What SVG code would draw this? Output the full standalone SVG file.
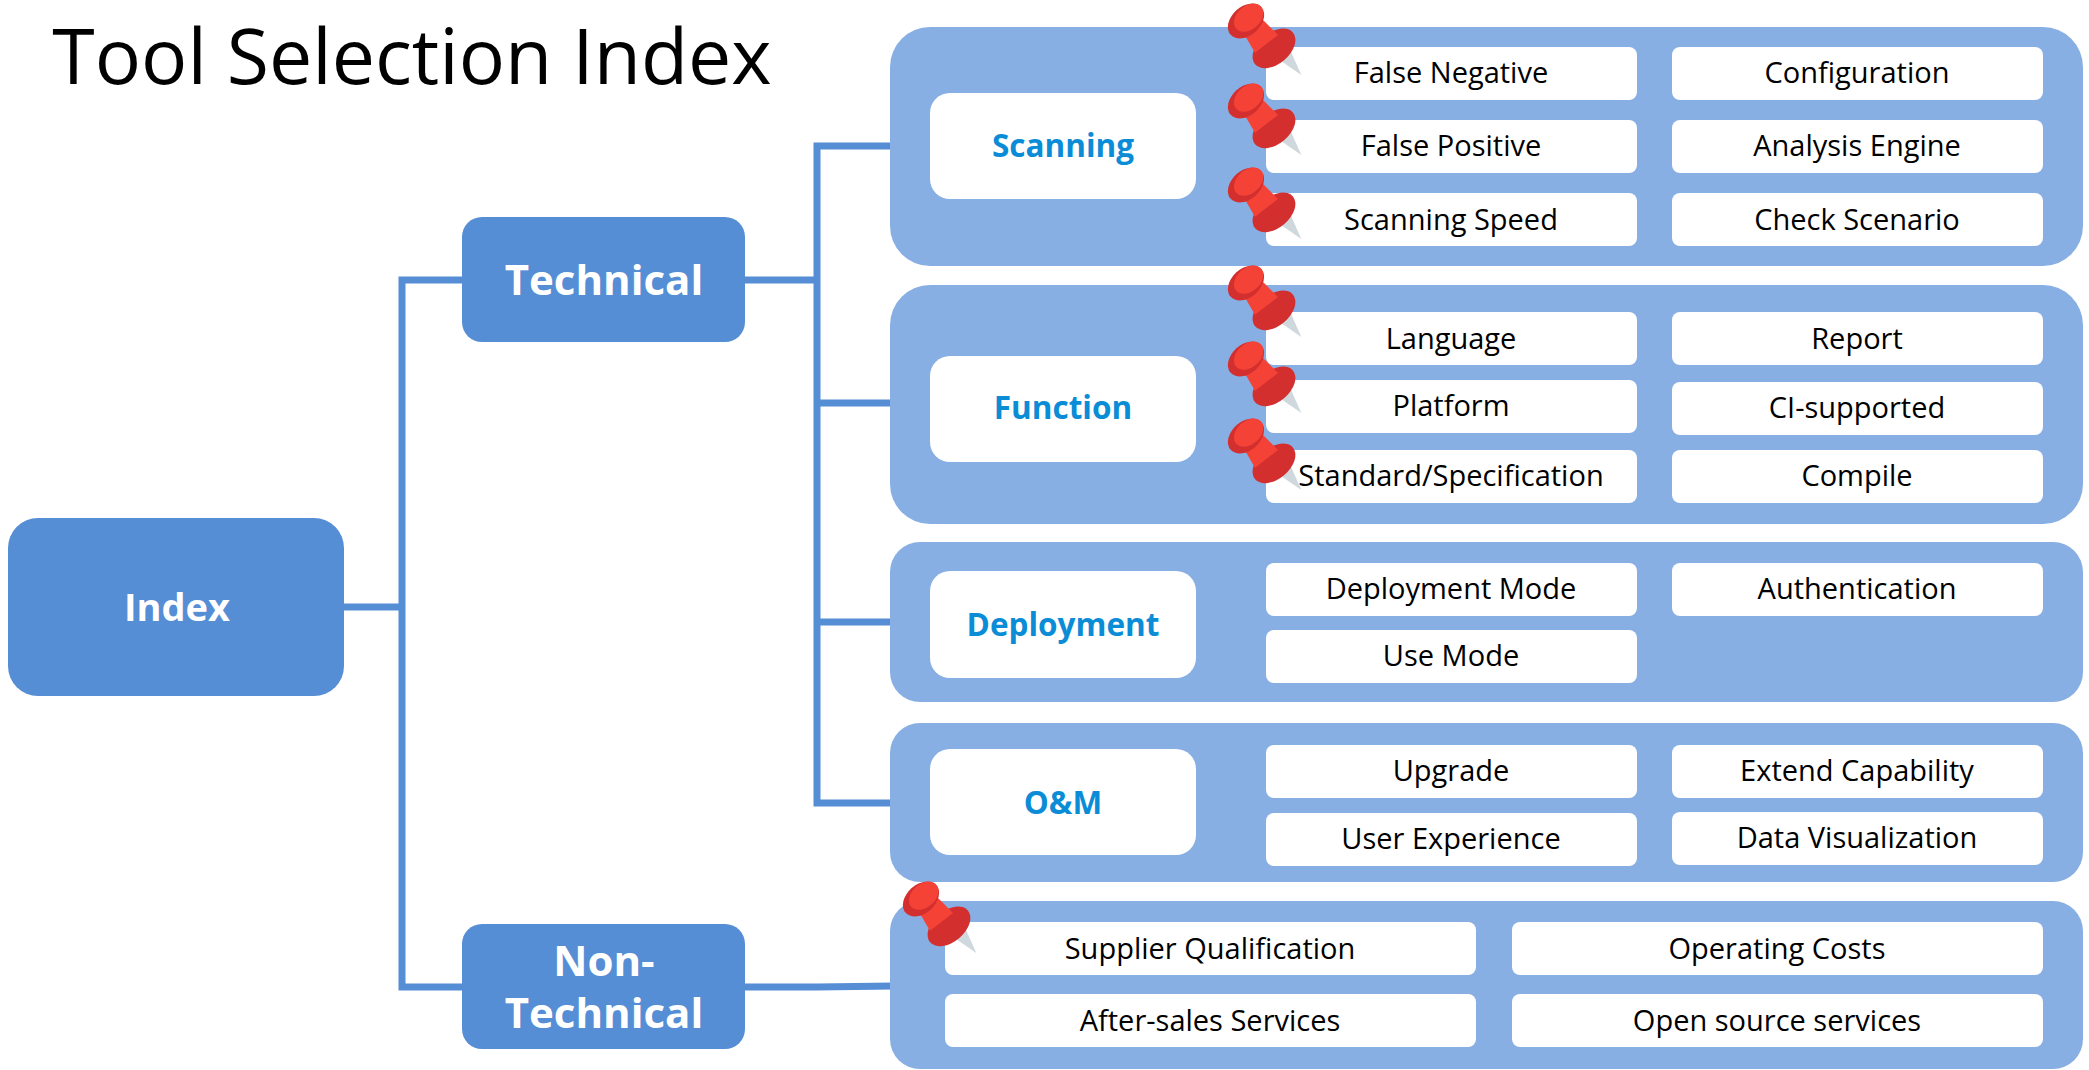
<svg xmlns="http://www.w3.org/2000/svg" width="2089" height="1070" viewBox="0 0 2089 1070">
<style>
text{font-family:"Open Sans","Noto Sans","Liberation Sans",sans-serif;text-anchor:middle}
.root{fill:#558ed5}
.panel{fill:#88afe3}
.head{fill:#fff}
.item{fill:#fff}
.t-item{font-size:29px;fill:#000}
.t-head{font-size:31.5px;font-weight:700;fill:#0b8cd6}
.t-root{font-size:42px;font-weight:700;fill:#fff}
.t-index{font-size:38px;font-weight:700;fill:#fff}
.line{fill:none;stroke:#558ed5;stroke-width:7;stroke-linecap:square}
</style>
<defs>
<g id="pin" transform="translate(1200 1) scale(.3333)">
<polygon points="243,180 272,150 304,222" fill="#cfd8dc"/>
<ellipse cx="222" cy="142" rx="74" ry="47" transform="rotate(-40 222 142)" fill="#d32f2f"/>
<polygon points="130,95 190,58 234,102 165,155" fill="#f44336"/>
<ellipse cx="138" cy="60" rx="62" ry="43" transform="rotate(-42 138 60)" fill="#d32f2f"/>
<ellipse cx="146" cy="50" rx="50" ry="35" transform="rotate(-42 146 50)" fill="#f44336"/>
</g>
</defs>
<text x="412" y="84" style="font-size:77px;fill:#000">Tool Selection Index</text>
<g id="connectors" class="line">
<path d="M344 607H402M402 280V987M462 987H402M402 280H462"/>
<path d="M745 280H817M817 146V803M817 146H890M817 403H890M817 622H890M817 803H890"/>
<path d="M745 987H817L890 986"/>
</g>
<g id="node-index"><rect class="root" x="8" y="518" width="336" height="178" rx="30"/><text class="t-index" x="177" y="621">Index</text></g>
<g id="node-technical"><rect class="root" x="462" y="217" width="283" height="125" rx="20"/><text class="t-root" x="604" y="295">Technical</text></g>
<g id="node-nontechnical"><rect class="root" x="462" y="924" width="283" height="125" rx="20"/><text class="t-root" x="604" y="976">Non-</text><text class="t-root" x="604" y="1028">Technical</text></g>
<g id="group-scanning"><rect class="panel" x="890" y="27" width="1193" height="239" rx="40"/>
<rect class="head" x="930" y="93" width="266" height="106" rx="20"/><text class="t-head" x="1063" y="157">Scanning</text>
<rect class="item" x="1266" y="47" width="371" height="53" rx="8"/><text class="t-item" x="1451" y="83">False Negative</text>
<rect class="item" x="1266" y="120" width="371" height="53" rx="8"/><text class="t-item" x="1451" y="156">False Positive</text>
<rect class="item" x="1266" y="193" width="371" height="53" rx="8"/><text class="t-item" x="1451" y="230">Scanning Speed</text>
<rect class="item" x="1672" y="47" width="371" height="53" rx="8"/><text class="t-item" x="1857" y="83">Configuration</text>
<rect class="item" x="1672" y="120" width="371" height="53" rx="8"/><text class="t-item" x="1857" y="156">Analysis Engine</text>
<rect class="item" x="1672" y="193" width="371" height="53" rx="8"/><text class="t-item" x="1857" y="230">Check Scenario</text></g>
<g id="group-function"><rect class="panel" x="890" y="285" width="1193" height="239" rx="40"/>
<rect class="head" x="930" y="356" width="266" height="106" rx="20"/><text class="t-head" x="1063" y="419">Function</text>
<rect class="item" x="1266" y="312" width="371" height="53" rx="8"/><text class="t-item" x="1451" y="349">Language</text>
<rect class="item" x="1266" y="380" width="371" height="53" rx="8"/><text class="t-item" x="1451" y="416">Platform</text>
<rect class="item" x="1266" y="450" width="371" height="53" rx="8"/><text class="t-item" x="1451" y="486">Standard/Specification</text>
<rect class="item" x="1672" y="312" width="371" height="53" rx="8"/><text class="t-item" x="1857" y="349">Report</text>
<rect class="item" x="1672" y="382" width="371" height="53" rx="8"/><text class="t-item" x="1857" y="418">CI-supported</text>
<rect class="item" x="1672" y="450" width="371" height="53" rx="8"/><text class="t-item" x="1857" y="486">Compile</text></g>
<g id="group-deployment"><rect class="panel" x="890" y="542" width="1193" height="160" rx="30"/>
<rect class="head" x="930" y="571" width="266" height="107" rx="20"/><text class="t-head" x="1063" y="636">Deployment</text>
<rect class="item" x="1266" y="563" width="371" height="53" rx="8"/><text class="t-item" x="1451" y="599">Deployment Mode</text>
<rect class="item" x="1266" y="630" width="371" height="53" rx="8"/><text class="t-item" x="1451" y="666">Use Mode</text>
<rect class="item" x="1672" y="563" width="371" height="53" rx="8"/><text class="t-item" x="1857" y="599">Authentication</text></g>
<g id="group-om"><rect class="panel" x="890" y="723" width="1193" height="159" rx="30"/>
<rect class="head" x="930" y="749" width="266" height="106" rx="20"/><text class="t-head" x="1063" y="814">O&amp;M</text>
<rect class="item" x="1266" y="745" width="371" height="53" rx="8"/><text class="t-item" x="1451" y="781">Upgrade</text>
<rect class="item" x="1266" y="813" width="371" height="53" rx="8"/><text class="t-item" x="1451" y="849">User Experience</text>
<rect class="item" x="1672" y="745" width="371" height="53" rx="8"/><text class="t-item" x="1857" y="781">Extend Capability</text>
<rect class="item" x="1672" y="812" width="371" height="53" rx="8"/><text class="t-item" x="1857" y="848">Data Visualization</text></g>
<g id="group-nontechnical"><rect class="panel" x="890" y="901" width="1193" height="168" rx="30"/>
<rect class="item" x="945" y="922" width="531" height="53" rx="8"/><text class="t-item" x="1210" y="959">Supplier Qualification</text>
<rect class="item" x="1512" y="922" width="531" height="53" rx="8"/><text class="t-item" x="1777" y="959">Operating Costs</text>
<rect class="item" x="945" y="994" width="531" height="53" rx="8"/><text class="t-item" x="1210" y="1031">After-sales Services</text>
<rect class="item" x="1512" y="994" width="531" height="53" rx="8"/><text class="t-item" x="1777" y="1031">Open source services</text></g>
<g id="pins">
<use href="#pin"/>
<use href="#pin" y="80"/>
<use href="#pin" y="164"/>
<use href="#pin" y="262"/>
<use href="#pin" y="338"/>
<use href="#pin" y="415"/>
<use href="#pin" x="-325" y="878"/>
</g>
</svg>
